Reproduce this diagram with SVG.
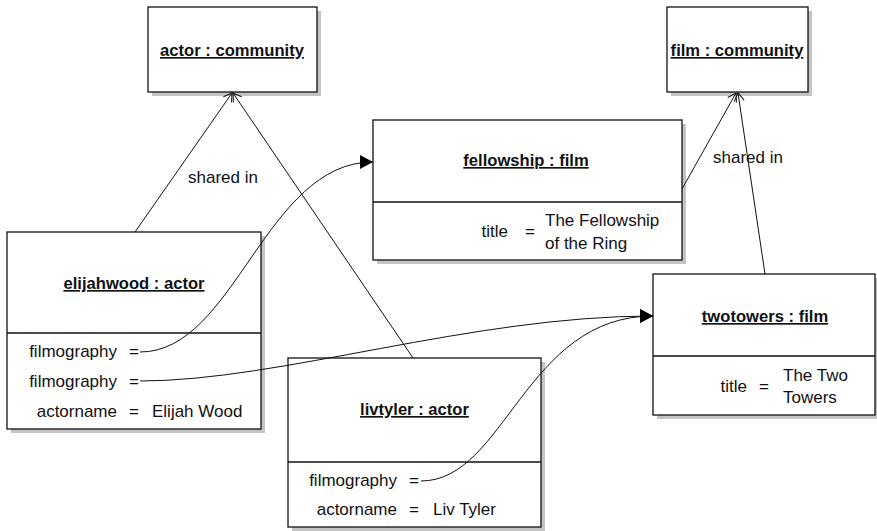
<svg xmlns="http://www.w3.org/2000/svg" width="877" height="531" viewBox="0 0 877 531">
<style>
.box{fill:#fff;stroke:#111;stroke-width:1.3}
.sh{fill:#c4c4c4}
.div{stroke:#111;stroke-width:1.3}
.t{font-family:"Liberation Sans",Arial,sans-serif;font-size:17px;fill:#111}
.b{font-size:16.6px;font-weight:bold;text-decoration:underline;text-anchor:middle}
.r{text-anchor:end}
.c{fill:none;stroke:#111;stroke-width:1}
</style>
<defs>
<marker id="open" markerUnits="userSpaceOnUse" markerWidth="12" markerHeight="12" viewBox="-10 -6 12 12" refX="0" refY="0" orient="auto" overflow="visible">
<path d="M-8,-5 L0,0 L-8,5" fill="none" stroke="#111" stroke-width="1"/>
</marker>
<marker id="fill" markerUnits="userSpaceOnUse" markerWidth="14" markerHeight="14" viewBox="0 0 14 14" refX="13" refY="7" orient="auto">
<path d="M0,0 L13,7 L0,14 z" fill="#000"/>
</marker>
</defs>
<rect width="877" height="531" fill="#fff"/>

<g id="actor-community">
<rect class="sh" x="152" y="11" width="169" height="85"/>
<rect class="box" x="148" y="7" width="169" height="85"/>
<text class="t b" x="232" y="56">actor : community</text>
</g>

<g id="film-community">
<rect class="sh" x="671" y="11" width="141" height="85"/>
<rect class="box" x="667" y="7" width="141" height="85"/>
<text class="t b" x="737" y="56">film : community</text>
</g>

<g id="fellowship">
<rect class="sh" x="377" y="124" width="309" height="140"/>
<rect class="box" x="373" y="120" width="309" height="140"/>
<line class="div" x1="373" y1="202" x2="682" y2="202"/>
<text class="t b" x="526" y="166">fellowship : film</text>
<text class="t r" x="508" y="237">title</text>
<text class="t" x="525" y="237">=</text>
<text class="t" x="545" y="226">The Fellowship</text>
<text class="t" x="545" y="249">of the Ring</text>
</g>

<g id="elijahwood">
<rect class="sh" x="11" y="236" width="254" height="197"/>
<rect class="box" x="7" y="232" width="254" height="197"/>
<line class="div" x1="7" y1="333" x2="261" y2="333"/>
<text class="t b" x="134" y="289">elijahwood : actor</text>
<text class="t r" x="117" y="357">filmography</text>
<text class="t" x="129" y="357">=</text>
<text class="t r" x="117" y="387">filmography</text>
<text class="t" x="129" y="387">=</text>
<text class="t r" x="117" y="417">actorname</text>
<text class="t" x="129" y="417">=</text>
<text class="t" x="152" y="417">Elijah Wood</text>
</g>

<g id="livtyler">
<rect class="sh" x="292" y="362" width="253" height="169"/>
<rect class="box" x="288" y="358" width="253" height="169"/>
<line class="div" x1="288" y1="462" x2="541" y2="462"/>
<text class="t b" x="414.5" y="415">livtyler : actor</text>
<text class="t r" x="397" y="486">filmography</text>
<text class="t" x="409" y="486">=</text>
<text class="t r" x="397" y="515">actorname</text>
<text class="t" x="409" y="515">=</text>
<text class="t" x="433" y="515">Liv Tyler</text>
</g>

<g id="twotowers">
<rect class="sh" x="657" y="278" width="222" height="141"/>
<rect class="box" x="653" y="274" width="222" height="141"/>
<line class="div" x1="653" y1="356" x2="875" y2="356"/>
<text class="t b" x="765" y="322">twotowers : film</text>
<text class="t r" x="747" y="392">title</text>
<text class="t" x="759" y="392">=</text>
<text class="t" x="783" y="381">The Two</text>
<text class="t" x="783" y="403">Towers</text>
</g>

<g id="connectors">
<line class="c" x1="135" y1="232" x2="232" y2="93" marker-end="url(#open)"/>
<line class="c" x1="413" y1="358" x2="233" y2="93" marker-end="url(#open)"/>
<text class="t" x="188" y="183">shared in</text>
<line class="c" x1="682" y1="189" x2="736" y2="93" marker-end="url(#open)"/>
<line class="c" x1="765" y1="274" x2="738" y2="93" marker-end="url(#open)"/>
<text class="t" x="713" y="163">shared in</text>
<path class="c" d="M140,352 C235,352 265,162 373,162" marker-end="url(#fill)"/>
<path class="c" d="M140,381 C280,381 470,316 653,316" marker-end="url(#fill)"/>
<path class="c" d="M421,481 C505,481 525,316 653,316" marker-end="url(#fill)"/>
</g>
</svg>
